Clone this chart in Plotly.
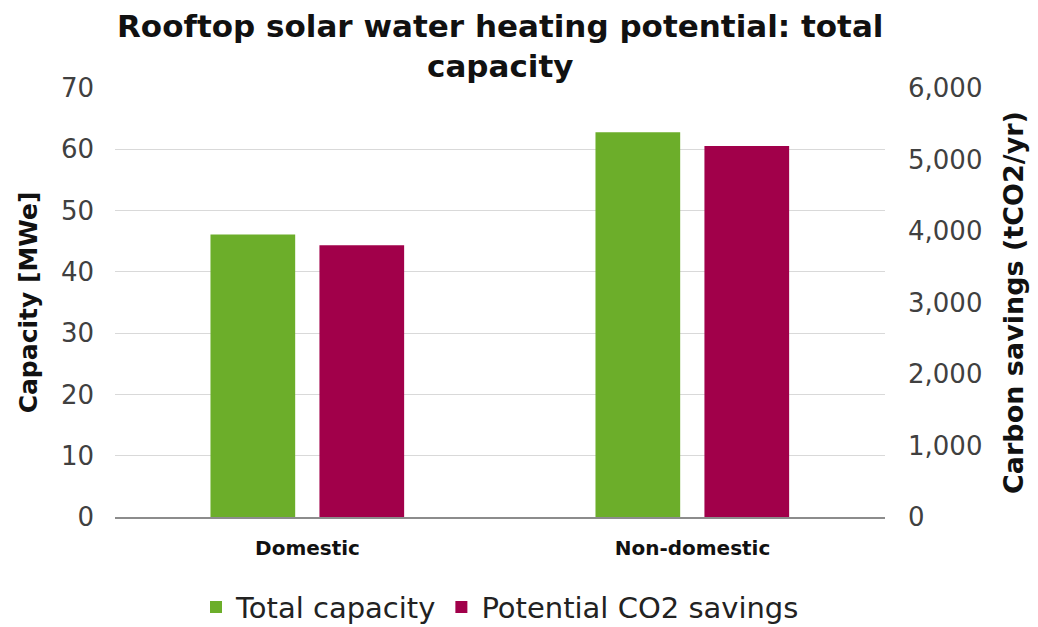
import plotly.graph_objects as go

# Rooftop solar water heating potential by building type
categories = ["Domestic", "Non-domestic"]
capacity_mwe = [46.1, 62.8]          # Total capacity [MWe], left axis
co2_savings = [3800, 5190]           # Potential CO2 savings [tCO2/yr], right axis
title_lines = ["Rooftop solar water heating potential: total", "capacity"]

GREEN = "#6CAE2A"
MAROON = "#A1004A"
FONT = "DejaVu Sans"
TEXT = "#404040"

fig = go.Figure()

fig.add_trace(go.Bar(
    x=categories, y=capacity_mwe, name="Total capacity",
    marker=dict(color=GREEN, line=dict(width=0)),
    width=0.22, offset=-0.252, yaxis="y",
))
fig.add_trace(go.Bar(
    x=categories, y=co2_savings, name="Potential CO2 savings",
    marker=dict(color=MAROON, line=dict(width=0)),
    width=0.22, offset=0.031, yaxis="y2",
))

# two-line chart title, centred over the plot area
for line, ypos in zip(title_lines, [1.1445, 1.051]):
    fig.add_annotation(
        text=line, x=0.5, xref="paper", xanchor="center",
        y=ypos, yref="paper", yanchor="middle", showarrow=False,
        font=dict(family=FONT, size=31, color="#111111", weight="bold"),
    )

fig.update_layout(
    width=1038, height=627,
    margin=dict(l=115, r=153, t=88, b=110, autoexpand=False),
    paper_bgcolor="white", plot_bgcolor="white",
    barmode="overlay",
    font=dict(family=FONT, color=TEXT),
    xaxis=dict(
        type="category",
        showline=True, linecolor="#8C8C8C", linewidth=2,
        showgrid=False, ticks="",
        tickfont=dict(family=FONT, size=20, color="#111111", weight="bold"),
        ticklabelstandoff=12,
    ),
    yaxis=dict(
        range=[0, 70], dtick=10, tick0=0,
        showgrid=True, gridcolor="#D9D9D9", gridwidth=1,
        zeroline=False, showline=False, ticks="",
        tickfont=dict(family=FONT, size=26, color=TEXT),
        ticklabelstandoff=20,
        title=dict(text="Capacity [MWe]", standoff=16,
                   font=dict(family=FONT, size=25, color="#111111", weight="bold")),
    ),
    yaxis2=dict(
        overlaying="y", side="right",
        range=[0, 6000], dtick=1000, tick0=0, tickformat=",",
        showgrid=False, zeroline=False, showline=False, ticks="",
        tickfont=dict(family=FONT, size=26, color=TEXT),
        ticklabelstandoff=22,
        title=dict(text="Carbon savings (tCO2/yr)", standoff=22,
                   font=dict(family=FONT, size=27, color="#111111", weight="bold")),
    ),
    legend=dict(
        orientation="h", x=0.5, xanchor="center",
        y=-0.21, yanchor="middle",
        font=dict(family=FONT, size=29, color="#222222"),
        itemwidth=30, traceorder="normal",
        bgcolor="rgba(0,0,0,0)",
    ),
    showlegend=True,
)

fig.write_html("out.html")
